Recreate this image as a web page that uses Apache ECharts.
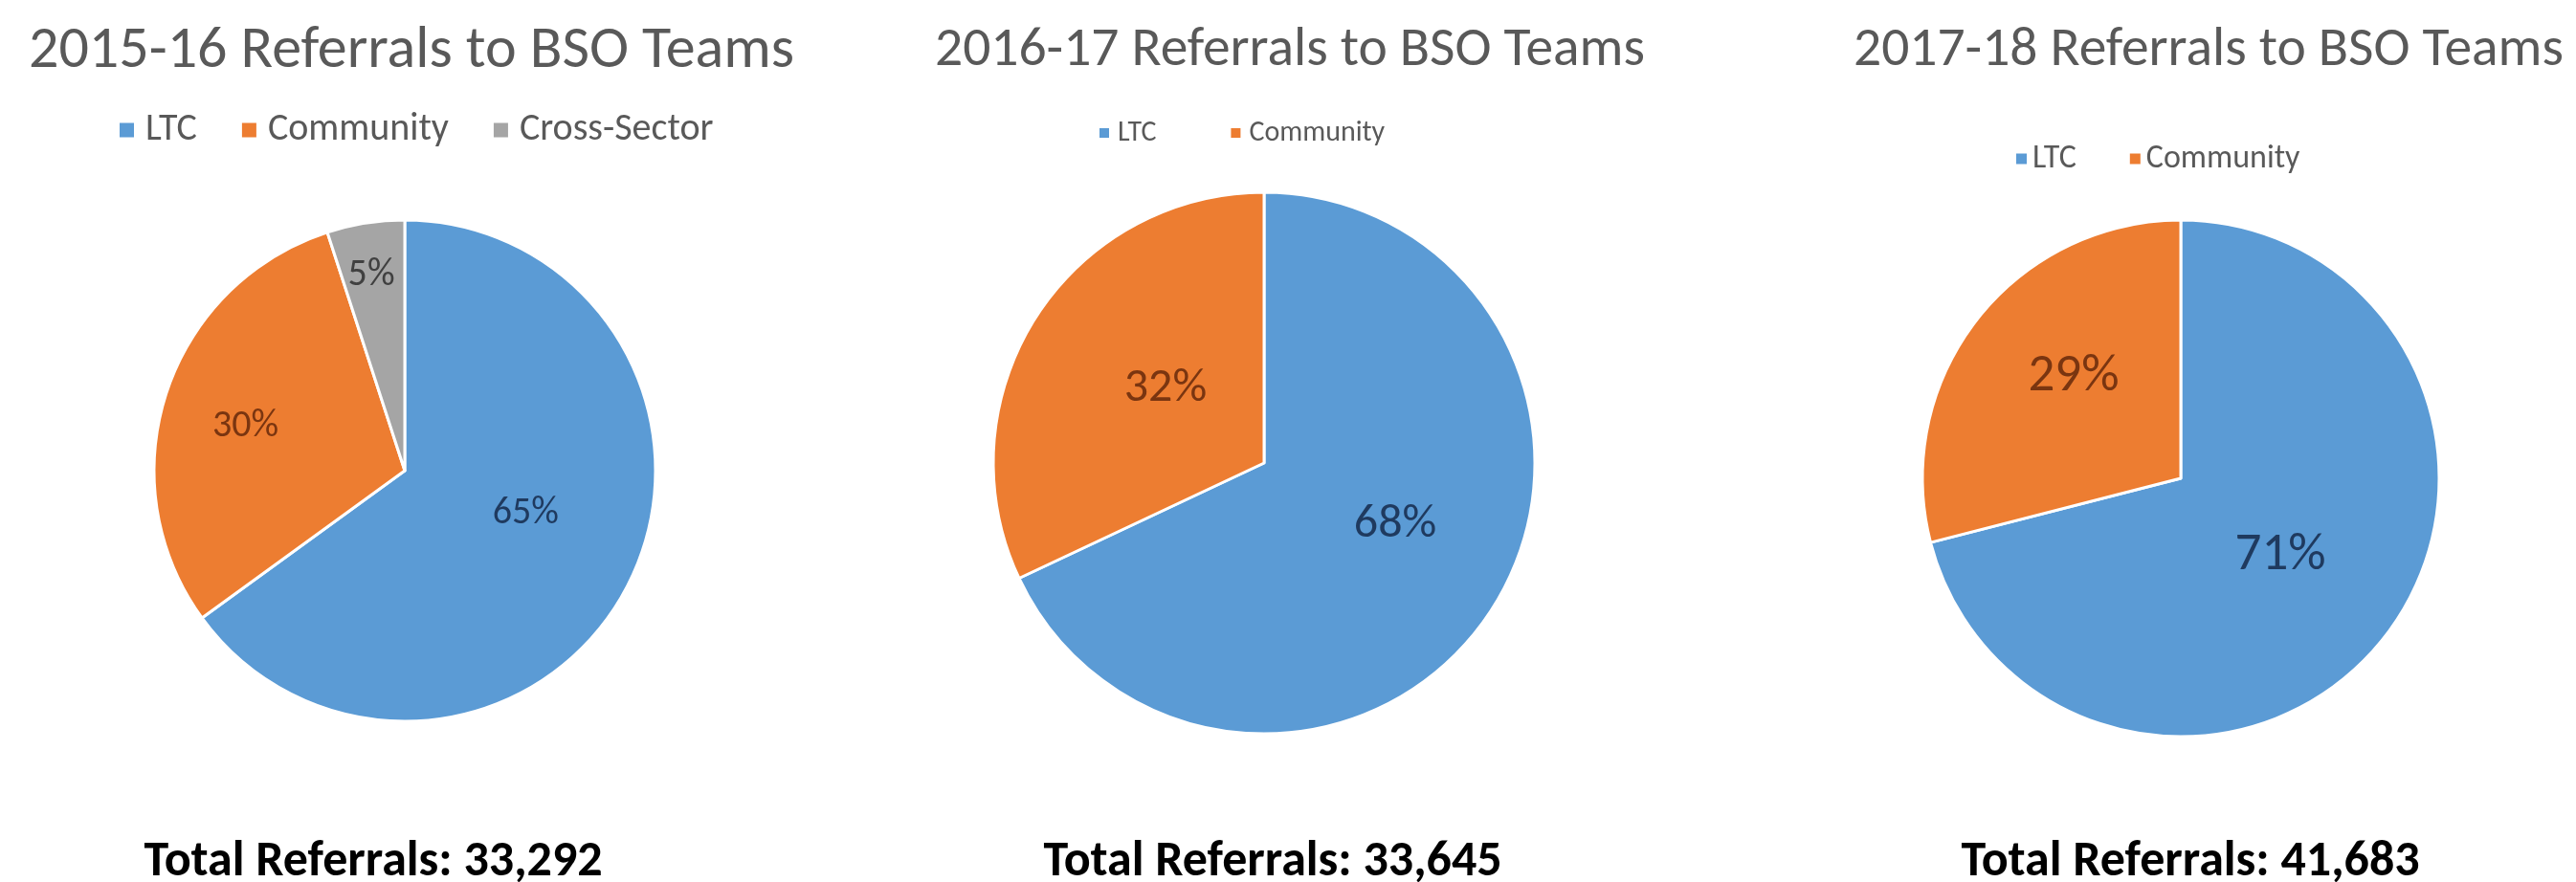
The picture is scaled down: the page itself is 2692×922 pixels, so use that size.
<!DOCTYPE html>
<html>
<head>
<meta charset="utf-8">
<title>Referrals to BSO Teams</title>
<script src="https://cdn.jsdelivr.net/npm/echarts@6/dist/echarts.min.js"></script>
<style>
  html, body { margin: 0; padding: 0; background: #ffffff; }
  #chart { width: 2692px; height: 922px; }
</style>
</head>
<body>
<div id="chart"></div>
<script>
// Referral categories and fiscal years
const categories = ['LTC', 'Community', 'Cross-Sector'];
const years = ['2015-16', '2016-17', '2017-18'];

// Share of referrals (%) per category, one list per year
const share1516 = [65, 30, 5];
const share1617 = [68, 32];
const share1718 = [71, 29];

// Total referrals per year
const totals = [33292, 33645, 41683];

const sliceColors = { 'LTC': '#5B9BD5', 'Community': '#ED7D31', 'Cross-Sector': '#A5A5A5' };
const labelColors = { 'LTC': '#1F3A5F', 'Community': '#7A3510', 'Cross-Sector': '#404040' };

const FONT = 'Carlito, Calibri, Lato, sans-serif';

// One panel per year: pie centre/radius, text sizes, legend/footer placement,
// and small best-fit nudges for the in-slice percentage labels
const panels = [
  { shares: share1516, cx: 423,  cy: 492, r: 262, labelSize: 40, titleX: 425,  titleSize: 62,
    legendSize: 40, legendIcon: 17, legendLeft: 118,  legendTop: 111, legendGap: 45, legendPad: 6,
    footX: 385, nudge: [[7, -16], [-39, -5], [-14, -72]] },
  { shares: share1617, cx: 1321, cy: 484, r: 283, labelSize: 50, titleX: 1343, titleSize: 57.5,
    legendSize: 30, legendIcon: 12, legendLeft: 1142, legendTop: 119, legendGap: 76, legendPad: 3,
    footX: 1325, nudge: [[15, -13], [19, 0]] },
  { shares: share1718, cx: 2279, cy: 500, r: 270, labelSize: 55, titleX: 2303, titleSize: 57.5,
    legendSize: 34, legendIcon: 13, legendLeft: 2100, legendTop: 144, legendGap: 54, legendPad: 0,
    footX: 2284, nudge: [[-5, -3], [-3, -21]] }
];

function sliceData(shares) {
  return shares.map((v, i) => ({
    name: categories[i],
    value: v,
    itemStyle: { color: sliceColors[categories[i]] },
    label: { color: labelColors[categories[i]] }
  }));
}

const chart = echarts.init(document.getElementById('chart'), null, { renderer: 'canvas' });

const titles = [];
const legends = [];
const series = [];

panels.forEach((p, k) => {
  titles.push({
    text: years[k] + ' Referrals to BSO Teams',
    left: p.titleX,
    top: 49 - p.titleSize * 0.6,
    textAlign: 'center',
    textStyle: { fontFamily: FONT, fontWeight: 300, fontSize: p.titleSize, color: '#595959', lineHeight: p.titleSize * 1.2 }
  });
  titles.push({
    text: 'Total Referrals: ' + totals[k].toLocaleString('en-US'),
    left: p.footX,
    top: 867,
    textAlign: 'center',
    textStyle: { fontFamily: FONT, fontWeight: 'bold', fontSize: 52, color: '#000000', lineHeight: 60 }
  });
  legends.push({
    data: categories.slice(0, p.shares.length),
    left: p.legendLeft,
    top: p.legendTop,
    orient: 'horizontal',
    icon: 'rect',
    itemWidth: p.legendIcon,
    itemHeight: p.legendIcon,
    itemGap: p.legendGap,
    selectedMode: false,
    textStyle: { fontFamily: FONT, fontSize: p.legendSize, color: '#595959', padding: [0, 0, 0, p.legendPad] }
  });
  series.push({
    type: 'pie',
    name: years[k],
    center: [p.cx, p.cy],
    radius: [0, p.r],
    startAngle: 90,
    clockwise: true,
    animation: false,
    silent: true,
    itemStyle: { borderColor: '#ffffff', borderWidth: 3 },
    label: {
      show: true,
      position: 'inside',
      formatter: '{c}%',
      fontFamily: FONT,
      fontSize: p.labelSize
    },
    labelLine: { show: false },
    labelLayout: (params) => {
      const n = p.nudge[params.dataIndex] || [0, 0];
      return { dx: n[0], dy: n[1] };
    },
    data: sliceData(p.shares)
  });
});

chart.setOption({
  backgroundColor: '#ffffff',
  animation: false,
  title: titles,
  legend: legends,
  series: series
});
</script>
</body>
</html>
